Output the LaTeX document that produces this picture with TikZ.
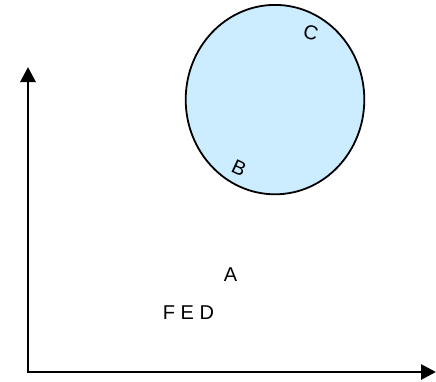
\documentclass[tikz,border=0pt]{standalone}
\usepackage{fontspec}
\setmainfont{Liberation Sans}
\usetikzlibrary{arrows.meta}
\definecolor{lblue}{HTML}{CCECFF}
\tikzset{
  axis/.style={line width=2.8pt,-{Triangle[length=15pt,width=15pt]}},
  lbl/.style={font=\fontsize{20}{23}\selectfont, inner sep=0pt},
  blob/.style={draw=black, line width=1.8pt, fill=lblue}
}
\begin{document}
\begin{tikzpicture}[x=1pt,y=-1pt]
\useasboundingbox (0,0) rectangle (436,381);
\draw[blob] (275,99.6) ellipse [x radius=89.3, y radius=94.7];
\node[lbl, rotate=-15] (C) at (311,33) {C};
\node[lbl, rotate=-25] (B) at (239,168) {B};
\node[lbl] (A) at (230.5,274.5) {A};
\node[lbl] (FED) at (188.5,313) {F E D};
\coordinate (O) at (28,372);
\coordinate (Y) at (28,67);
\coordinate (X) at (436,372);
\draw[axis] (O) -- (Y);
\draw[axis] ([xshift=-1.4pt]O) -- (X);
\end{tikzpicture}
\end{document}
